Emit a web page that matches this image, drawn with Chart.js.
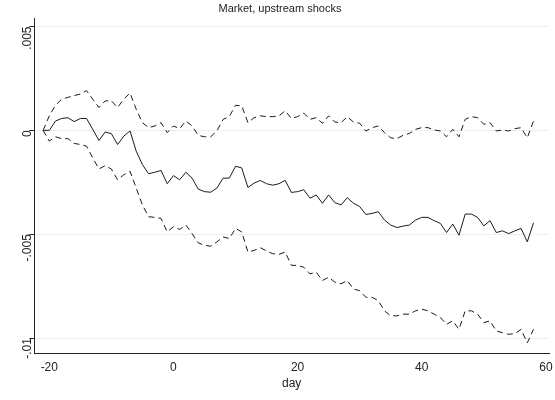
<!DOCTYPE html>
<html lang="en">
<head>
  <meta charset="UTF-8"/>
  <title>Market, upstream shocks</title>
  <script src="https://cdn.jsdelivr.net/npm/chart.js"></script>
  <style>
    html, body { margin: 0; background: #fff; }
    #wrap { width: 555px; height: 400px; }
  </style>
</head>
<body>
  <div id="wrap"><canvas id="chart"></canvas></div>

  <script>
    // values are in thousandths (1 = .001)
    const days = [];
    for (let d = -21; d <= 58; d++) days.push(d);

    const estimate = [0, 0, 0.45, 0.57, 0.61, 0.42, 0.57, 0.57, 0.05, -0.49,
      -0.08, -0.16, -0.68, -0.28, -0.03, -1.00, -1.65, -2.09, -2.02, -1.93,
      -2.57, -2.18, -2.38, -2.02, -2.30, -2.83, -2.95, -2.98, -2.78, -2.30,
      -2.30, -1.73, -1.81, -2.75, -2.54, -2.41, -2.57, -2.64, -2.57, -2.41,
      -2.99, -2.95, -2.86, -3.27, -3.11, -3.51, -3.11, -3.48, -3.59, -3.24,
      -3.51, -3.67, -4.05, -4.00, -3.92, -4.32, -4.56, -4.68, -4.61, -4.56,
      -4.32, -4.19, -4.19, -4.35, -4.48, -4.92, -4.51, -5.05, -4.03, -4.03,
      -4.19, -4.60, -4.35, -4.92, -4.84, -4.97, -4.84, -4.72, -5.37, -4.45];

    const upper = [0, 0.70, 1.21, 1.50, 1.59, 1.67, 1.75, 1.91, 1.50, 1.10,
      1.42, 1.42, 1.10, 1.50, 1.80, 1.02, 0.37, 0.13, 0.21, 0.37,
      -0.11, 0.21, 0.08, 0.45, 0.21, -0.24, -0.31, -0.31, -0.03, 0.53,
      0.66, 1.21, 1.18, 0.37, 0.61, 0.70, 0.66, 0.66, 0.70, 0.94,
      0.57, 0.66, 0.83, 0.53, 0.61, 0.34, 0.70, 0.40, 0.37, 0.66,
      0.40, 0.34, -0.03, 0.13, 0.21, -0.11, -0.36, -0.40, -0.24, -0.15,
      0.05, 0.13, 0.13, 0.02, -0.03, -0.31, 0.05, -0.31, 0.53, 0.66,
      0.61, 0.29, 0.37, -0.03, 0.02, -0.03, 0.08, 0.13, -0.36, 0.45];

    const lower = [0, -0.52, -0.31, -0.40, -0.40, -0.63, -0.68, -0.76, -1.33, -1.86,
      -1.70, -1.86, -2.38, -2.14, -1.97, -2.78, -3.59, -4.16, -4.19, -4.24,
      -4.89, -4.64, -4.77, -4.56, -4.97, -5.42, -5.53, -5.58, -5.37, -5.13,
      -5.21, -4.72, -4.89, -5.86, -5.78, -5.65, -5.81, -5.94, -5.97, -5.86,
      -6.50, -6.50, -6.59, -6.91, -6.83, -7.23, -7.07, -7.31, -7.39, -7.23,
      -7.64, -7.72, -8.04, -8.04, -8.20, -8.69, -8.93, -8.93, -8.85, -8.85,
      -8.69, -8.61, -8.69, -8.85, -9.01, -9.34, -9.17, -9.58, -8.69, -8.69,
      -8.85, -9.26, -9.17, -9.66, -9.74, -9.82, -9.79, -9.58, -10.23, -9.58];

    const xTicks = [-20, 0, 20, 40, 60];
    const yTicks = [-10, -5, 0, 5];
    const yLabels = ['-.01', '-.005', '0', '.005'];

    const pts = arr => arr.map((v, i) => ({ x: days[i], y: v }));

    const line = (data, dash) => ({
      data: pts(data),
      borderColor: '#1a1a1a',
      borderWidth: 1,
      borderDash: dash,
      pointRadius: 0,
      tension: 0,
      fill: false
    });

    new Chart(document.getElementById('chart'), {
      type: 'line',
      data: {
        datasets: [line(estimate, []), line(upper, [6, 4]), line(lower, [6, 4])]
      },
      options: {
        responsive: true,
        maintainAspectRatio: false,
        animation: false,
        layout: { padding: { top: 2, right: 6, left: 11, bottom: 9 } },
        plugins: {
          legend: { display: false },
          tooltip: { enabled: false },
          title: {
            display: true, text: 'Market, upstream shocks', color: '#222',
            font: { family: 'Arial', size: 11, weight: 'normal' },
            padding: { top: 0, bottom: 3 }
          }
        },
        scales: {
          x: {
            type: 'linear', min: -22.4, max: 60.5,
            afterBuildTicks: s => { s.ticks = xTicks.map(v => ({ value: v })); },
            ticks: { color: '#222', font: { family: 'Arial', size: 12 }, padding: 2 },
            grid: { display: false, drawTicks: true, tickLength: 5, tickColor: '#222' },
            border: { color: '#222' },
            title: { display: true, text: 'day', color: '#222', font: { family: 'Arial', size: 12 }, padding: 0 }
          },
          y: {
            min: -10.73, max: 5.4,
            afterBuildTicks: s => { s.ticks = yTicks.map(v => ({ value: v })); },
            ticks: {
              color: '#222', font: { family: 'Arial', size: 12 }, padding: 2,
              minRotation: 90, maxRotation: 90,
              callback: v => yLabels[yTicks.indexOf(v)]
            },
            grid: { color: '#eaf0f0', tickColor: '#222', tickLength: 5 },
            border: { color: '#222' }
          }
        }
      }
    });
  </script>
</body>
</html>
